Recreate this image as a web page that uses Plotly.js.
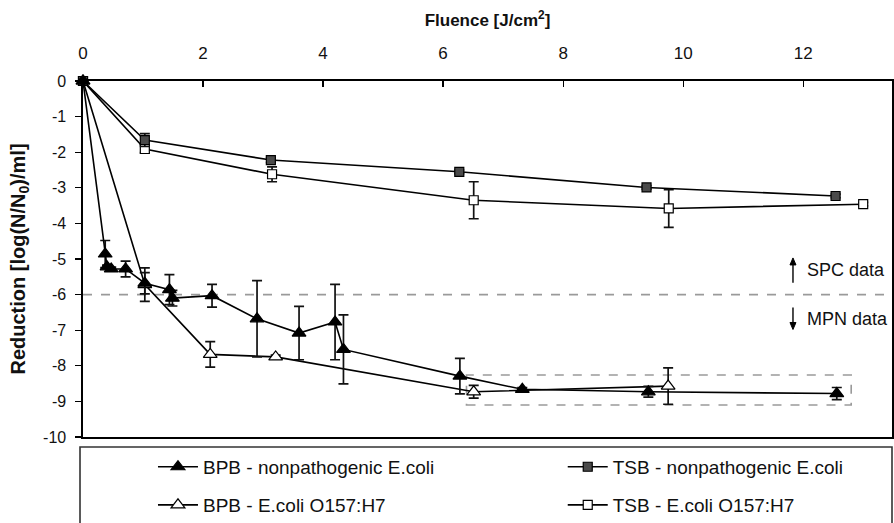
<!DOCTYPE html>
<html>
<head>
<meta charset="utf-8">
<script src="https://cdn.plot.ly/plotly-3.0.1.min.js"></script>
<style>html,body{margin:0;padding:0;background:#fff;}#chart{width:894px;height:523px;}</style>
</head>
<body>
<div id="chart"></div>
<script>
// Fluence [J/cm2] and reductions [log(N/N0)/ml]
var bpbNpX   = [0, 0.37, 0.40, 0.47, 0.71, 1.03, 1.44, 1.49, 2.15, 2.90, 3.60, 4.20, 4.34, 6.28, 7.32, 9.42, 12.56];
var bpbNpY   = [0, -4.86, -5.22, -5.28, -5.28, -5.68, -5.86, -6.10, -6.03, -6.68, -7.08, -6.77, -7.54, -8.29, -8.66, -8.73, -8.78];
var bpbNpErr = [0, 0.38, 0.05, 0.05, 0.22, 0.30, 0.42, 0.22, 0.32, 1.07, 0.75, 1.06, 0.97, 0.50, 0.05, 0.15, 0.17];

var tsbNpX   = [0, 1.03, 3.13, 6.27, 9.39, 12.54];
var tsbNpY   = [0, -1.66, -2.22, -2.55, -2.99, -3.23];
var tsbNpErr = [0, 0.18, 0.07, 0.05, 0.05, 0.05];

var bpbOX   = [0, 1.03, 2.12, 3.21, 6.51, 9.75];
var bpbOY   = [0, -5.72, -7.68, -7.75, -8.73, -8.57];
var bpbOErr = [0, 0.47, 0.36, 0.05, 0.18, 0.51];

var tsbOX   = [0, 1.03, 3.15, 6.51, 9.76, 13.00];
var tsbOY   = [0, -1.91, -2.62, -3.35, -3.58, -3.46];
var tsbOErr = [0, 0.10, 0.21, 0.52, 0.53, 0.05];

var seriesNames = ["BPB - nonpathogenic E.coli", "TSB - nonpathogenic E.coli", "BPB - E.coli O157:H7", "TSB - E.coli O157:H7"];
var xTicks = [0, 2, 4, 6, 8, 10, 12];
var yTicks = [0, -1, -2, -3, -4, -5, -6, -7, -8, -9, -10];

var FONT = "Liberation Sans, Arial, Helvetica, sans-serif";

function mk(x, y, err, name, symbol, fill, size, legend) {
  return {
    x: x, y: y, name: name, type: "scatter", mode: "lines+markers",
    legend: legend,
    line: {color: "#000", width: 1.6},
    marker: {symbol: symbol, size: size, color: fill, line: {color: "#000", width: 1.2}},
    error_y: {type: "data", array: err, visible: true, color: "#111", thickness: 1.7, width: 5},
    cliponaxis: false
  };
}

var data = [
  mk(tsbOX, tsbOY, tsbOErr, seriesNames[3], "square", "#fff", 9, "legend4"),
  mk(tsbNpX, tsbNpY, tsbNpErr, seriesNames[1], "square", "#4a4a4a", 9, "legend2"),
  mk(bpbOX, bpbOY, bpbOErr, seriesNames[2], "triangle-up", "#fff", 12, "legend3"),
  mk(bpbNpX, bpbNpY, bpbNpErr, seriesNames[0], "triangle-up", "#000", 12, "legend")
];

function leg(x, y) {
  return {
    orientation: "v", x: x, xanchor: "left", y: y, yanchor: "middle",
    bgcolor: "rgba(0,0,0,0)", borderwidth: 0, itemwidth: 40,
    font: {size: 19, family: FONT, color: "#111"}
  };
}

var arrowX = 11.83;

var layout = {
  width: 894, height: 523,
  margin: {l: 83, r: 2, t: 81, b: 86, autoexpand: false},
  paper_bgcolor: "#fff", plot_bgcolor: "#fff",
  font: {family: FONT, color: "#111", size: 16},
  showlegend: true,
  xaxis: {
    range: [0, 13.48], side: "top", tickvals: xTicks, ticktext: xTicks.map(String),
    ticks: "inside", ticklen: 6, tickcolor: "#000", tickwidth: 1.2,
    showline: true, mirror: true, linecolor: "#000", linewidth: 1.6,
    showgrid: false, zeroline: false, ticklabelstandoff: 14,
    tickfont: {size: 17, family: FONT, color: "#111"},
    title: {text: "Fluence [J/cm<sup>2</sup>]", font: {size: 17, family: FONT, weight: "bold", color: "#111"}, standoff: 12}
  },
  yaxis: {
    range: [-10, 0], tickvals: yTicks, ticktext: yTicks.map(String),
    ticks: "outside", ticklen: 6, tickcolor: "#000", tickwidth: 1.2,
    showline: true, mirror: true, linecolor: "#000", linewidth: 1.6,
    showgrid: false, zeroline: false, ticklabelstandoff: 6,
    tickfont: {size: 16, family: FONT, color: "#111"},
    title: {text: "Reduction [log(N/N<sub>0</sub>)/ml]", font: {size: 20, family: FONT, weight: "bold", color: "#111"}, standoff: 12}
  },
  legend:  leg(0.0865, -0.084),
  legend2: leg(0.593, -0.084),
  legend3: leg(0.0865, -0.191),
  legend4: leg(0.593, -0.191),
  shapes: [
    {type: "line", xref: "paper", yref: "y", x0: 0, x1: 1, y0: -6, y1: -6,
     line: {color: "#9a9a9a", width: 1.6, dash: "dash"}, layer: "below"},
    {type: "rect", xref: "x", yref: "y", x0: 6.39, x1: 12.8, y0: -9.1, y1: -8.26,
     line: {color: "#9a9a9a", width: 1.6, dash: "dash"}, layer: "below"},
    {type: "rect", xref: "paper", yref: "paper", x0: -0.0037, x1: 1.0, y0: -0.30, y1: -0.028,
     line: {color: "#333", width: 1.6}, fillcolor: "rgba(0,0,0,0)"},
    // SPC arrow (up)
    {type: "line", xref: "x", yref: "y", x0: arrowX, x1: arrowX, y0: -5.67, y1: -5.05,
     line: {color: "#000", width: 1.4}},
    {type: "path", xref: "x", yref: "y", xsizemode: "pixel", ysizemode: "pixel",
     xanchor: arrowX, yanchor: -4.97, path: "M-3,-7 L3,-7 L0,0 Z",
     fillcolor: "#000", line: {color: "#000", width: 1}},
    // MPN arrow (down)
    {type: "line", xref: "x", yref: "y", x0: arrowX, x1: arrowX, y0: -6.36, y1: -6.9,
     line: {color: "#000", width: 1.4}},
    {type: "path", xref: "x", yref: "y", xsizemode: "pixel", ysizemode: "pixel",
     xanchor: arrowX, yanchor: -6.98, path: "M-3,7 L3,7 L0,0 Z",
     fillcolor: "#000", line: {color: "#000", width: 1}}
  ],
  annotations: [
    {x: 12.03, y: -5.32, xref: "x", yref: "y", xanchor: "left", yanchor: "middle", showarrow: false,
     text: "SPC data", font: {size: 18, family: FONT, color: "#111"}},
    {x: 12.03, y: -6.68, xref: "x", yref: "y", xanchor: "left", yanchor: "middle", showarrow: false,
     text: "MPN data", font: {size: 18, family: FONT, color: "#111"}}
  ]
};

Plotly.newPlot("chart", data, layout, {staticPlot: true, displayModeBar: false});
</script>
</body>
</html>
